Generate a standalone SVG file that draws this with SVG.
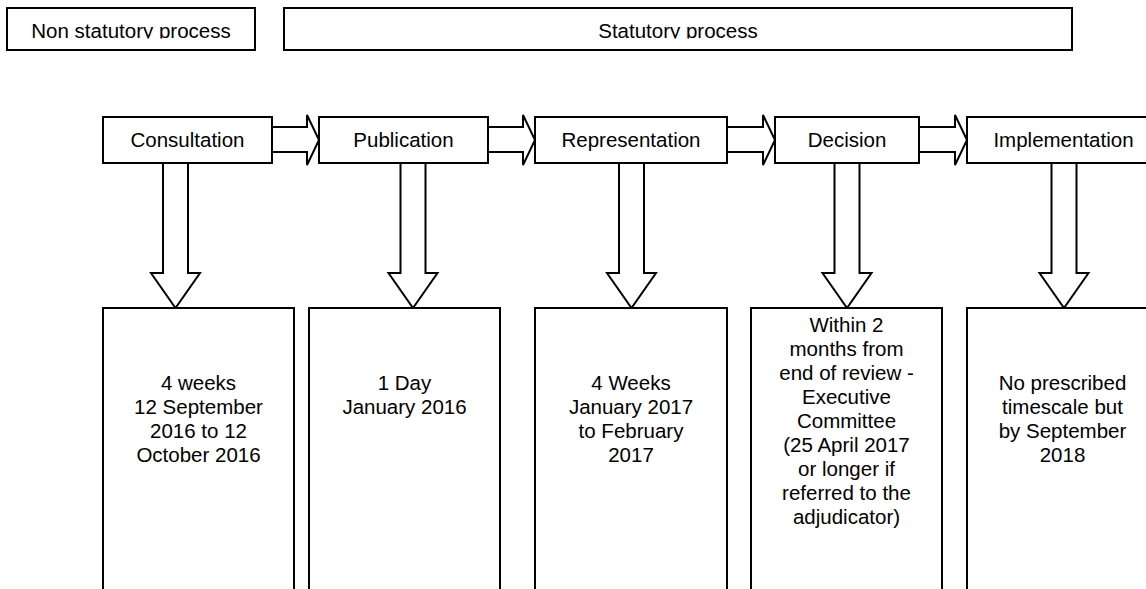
<svg xmlns="http://www.w3.org/2000/svg" width="1146" height="589" viewBox="0 0 1146 589">
<style>
.box{fill:#fff;stroke:#000;stroke-width:2}
.arr{fill:#fff;stroke:#000;stroke-width:2;stroke-linejoin:miter}
text{font-family:"Liberation Sans",Arial,sans-serif;font-size:20.5px;fill:#000;text-anchor:middle}
</style>
<defs>
<clipPath id="topclip"><rect x="0" y="0" width="1146" height="38.5"/></clipPath>
</defs>
<rect width="1146" height="589" fill="#fff"/>
<g id="non-statutory">
<rect class="box" x="7" y="8" width="248" height="42"/>
<text x="131" y="38" clip-path="url(#topclip)">Non statutory process</text>
</g>
<g id="statutory">
<rect class="box" x="284" y="8" width="788" height="42"/>
<text x="678" y="38" clip-path="url(#topclip)">Statutory process</text>
</g>
<g id="connectors">
<path class="arr" d="M272,127 H307 V115 L319,140 L307,165 V152 H272"/>
<path class="arr" d="M488,127 H523 V115 L535,140 L523,165 V152 H488"/>
<path class="arr" d="M727,127 H763 V115 L775,140 L763,165 V152 H727"/>
<path class="arr" d="M919,127 H955 V115 L967,140 L955,165 V152 H919"/>
<path class="arr" d="M163,163 V273 H151 L175.5,308 L200,273 H188 V163"/>
<path class="arr" d="M400.5,163 V273 H388.5 L413,308 L437.5,273 H425.5 V163"/>
<path class="arr" d="M619,163 V273 H607 L631.5,308 L656,273 H644 V163"/>
<path class="arr" d="M834.5,163 V273 H822.5 L847,308 L871.5,273 H859.5 V163"/>
<path class="arr" d="M1051.5,163 V273 H1039.5 L1064,308 L1088.5,273 H1076.5 V163"/>
</g>
<g id="consultation">
<rect class="box" x="103" y="117" width="169" height="46"/>
<text x="187.5" y="147">Consultation</text>
</g>
<g id="publication">
<rect class="box" x="319" y="117" width="169" height="46"/>
<text x="403.5" y="147">Publication</text>
</g>
<g id="representation">
<rect class="box" x="535" y="117" width="192" height="46"/>
<text x="631" y="147">Representation</text>
</g>
<g id="decision">
<rect class="box" x="775" y="117" width="144" height="46"/>
<text x="847" y="147">Decision</text>
</g>
<g id="implementation">
<rect class="box" x="967" y="117" width="193" height="46"/>
<text x="1063.5" y="147">Implementation</text>
</g>
<g id="consultation-time">
<rect class="box" x="103" y="308" width="191" height="300"/>
<text x="198.5" y="390">4 weeks</text>
<text x="198.5" y="414">12 September</text>
<text x="198.5" y="438">2016 to 12</text>
<text x="198.5" y="462">October 2016</text>
</g>
<g id="publication-time">
<rect class="box" x="309" y="308" width="191" height="300"/>
<text x="404.5" y="390">1 Day</text>
<text x="404.5" y="414">January 2016</text>
</g>
<g id="representation-time">
<rect class="box" x="535" y="308" width="192" height="300"/>
<text x="631" y="390">4 Weeks</text>
<text x="631" y="414">January 2017</text>
<text x="631" y="438">to February</text>
<text x="631" y="462">2017</text>
</g>
<g id="decision-time">
<rect class="box" x="751" y="308" width="191" height="300"/>
<text x="846.5" y="332">Within 2</text>
<text x="846.5" y="356">months from</text>
<text x="846.5" y="380">end of review -</text>
<text x="846.5" y="404">Executive</text>
<text x="846.5" y="428">Committee</text>
<text x="846.5" y="452">(25 April 2017</text>
<text x="846.5" y="476">or longer if</text>
<text x="846.5" y="500">referred to the</text>
<text x="846.5" y="524">adjudicator)</text>
</g>
<g id="implementation-time">
<rect class="box" x="967" y="308" width="191" height="300"/>
<text x="1062.5" y="390">No prescribed</text>
<text x="1062.5" y="414">timescale but</text>
<text x="1062.5" y="438">by September</text>
<text x="1062.5" y="462">2018</text>
</g>
</svg>
